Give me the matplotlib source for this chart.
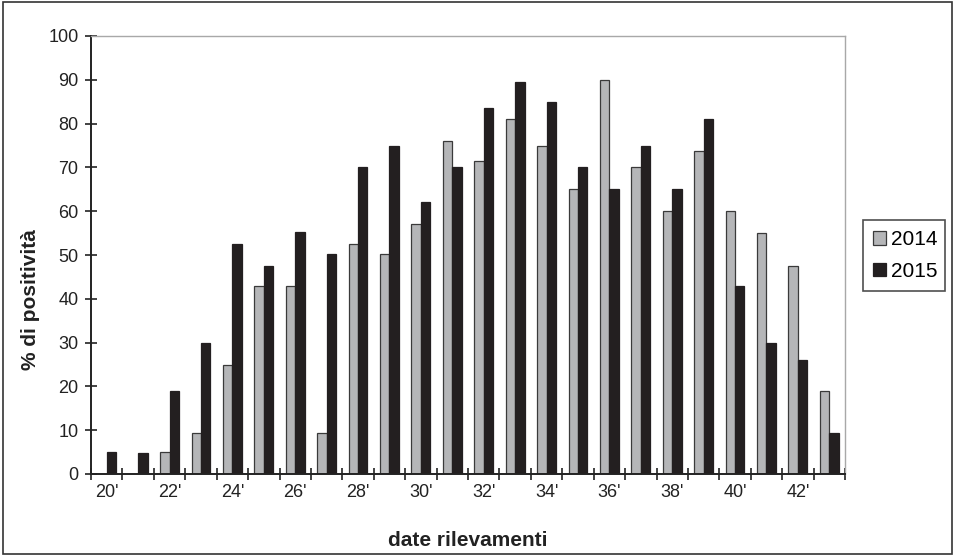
import matplotlib
matplotlib.use("Agg")
import matplotlib.pyplot as plt
import numpy as np
from matplotlib.patches import Rectangle

plt.rcParams['font.family'] = ['Liberation Sans', 'DejaVu Sans']

weeks = [f"{w}'" for w in range(20, 44)]
tick_labels = [w if i % 2 == 0 else "" for i, w in enumerate(weeks)]
v2014 = [0, 0, 5, 9.3, 25, 43, 43, 9.3, 52.5, 50.2, 57, 76, 71.5, 81, 75, 65, 90, 70, 60, 73.8, 60, 55, 47.5, 19]
v2015 = [5, 4.7, 19, 30, 52.5, 47.5, 55.3, 50.2, 70, 75, 62, 70, 83.5, 89.5, 85, 70, 65, 75, 65, 81, 43, 30, 26, 9.3]

fig = plt.figure(figsize=(9.55, 5.56), dpi=100)
ax = fig.add_axes([91/955, 1-474/556, (845-91)/955, (474-36)/556])

x = np.arange(len(weeks))
w = 0.3
ax.bar(x - w/2, v2014, w, color='#b5b6b8', edgecolor='#3a3a3a', linewidth=0.9, label='2014')
ax.bar(x + w/2, v2015, w, color='#231f20', edgecolor='#231f20', linewidth=0.9, label='2015')

ax.set_xlim(-0.5, len(weeks) - 0.5)
ax.set_ylim(0, 100)
ax.set_yticks(range(0, 101, 10))
ax.set_xticks(x)
ax.set_xticklabels(tick_labels, fontsize=13, color='#222222')
ax.set_xticks(np.arange(-0.5, len(weeks), 1), minor=True)
ax.tick_params(axis='x', which='major', length=0, pad=7)
ax.tick_params(axis='x', which='minor', direction='inout', length=8, width=1.2, color='#222222')
ax.tick_params(axis='y', direction='inout', length=8, width=1.2, labelsize=13, labelcolor='#222222', color='#222222', pad=5)

for s in ['left', 'bottom']:
    ax.spines[s].set_color('#222222')
    ax.spines[s].set_linewidth(1.4)
for s in ['top', 'right']:
    ax.spines[s].set_color('#a8a8a8')
    ax.spines[s].set_linewidth(1.0)

fig.text(30/955, 1-300/556, '% di positività', fontsize=15, fontweight='bold', color='#222222',
         rotation=90, ha='center', va='center')
fig.text((91+845)/2/955, 1-540/556, 'date rilevamenti', fontsize=15, fontweight='bold',
         color='#222222', ha='center', va='center')

leg = ax.legend(loc='center left', bbox_to_anchor=(863/955, 1-292/556, (945-863)/955, (292-219)/556),
                bbox_transform=fig.transFigure, mode='expand', fontsize=15, frameon=True, fancybox=False,
                handlelength=0.6, handleheight=0.6, handletextpad=0.25, borderpad=0.5, labelspacing=0.6,
                borderaxespad=0)
leg.get_frame().set_edgecolor('#222222')
leg.get_frame().set_linewidth(1.2)

fig.patches.append(Rectangle((0.003, 0.003), 0.994, 0.994, transform=fig.transFigure,
                             fill=False, edgecolor='#333333', linewidth=1.2))

fig.savefig('out.png', dpi=100)
